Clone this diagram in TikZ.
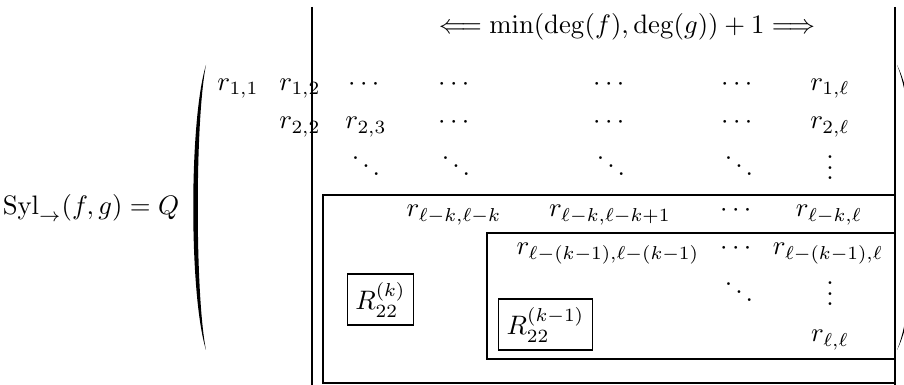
\documentclass[tikz,border=0pt]{standalone}
\usepackage{amsmath}
\usepackage{tikz}
\begin{document}
\begin{tikzpicture}[x=0.3745pt,y=-0.3745pt,
  entry/.style={anchor=base,inner sep=0pt},
  edge/.style={line width=.9pt},
  block/.style={line width=.8pt},
  rbox/.style={draw,line width=.45pt,inner sep=3pt,minimum height=18pt}]
\useasboundingbox (0,0) rectangle (904,385);
% left hand side and top label
\node[entry] (syl) at (91,215) {$\mathrm{Syl}_{\rightarrow}(f,g)=Q$};
\node[entry] (width) at (627,34) {$\Longleftarrow \min(\deg(f),\deg(g))+1 \Longrightarrow$};
% parentheses
\fill (206,65) .. controls (189,120) and (189,295) .. (206,350)
  .. controls (195,295) and (195,120) .. (206,65);
\fill (897,65) .. controls (925,120) and (925,295) .. (897,350)
  .. controls (920,295) and (920,120) .. (897,65);
% first rows
\node[entry] (r11) at (238,91) {$r_{1,1}$};
\node[entry] (r12) at (300,91) {$r_{1,2}$};
\node[entry] (c13) at (366,91) {$\cdots$};
\node[entry] (c14) at (456,91) {$\cdots$};
\node[entry] (c15) at (611,91) {$\cdots$};
\node[entry] (c16) at (739,91) {$\cdots$};
\node[entry] (r1l) at (830,91) {$r_{1,\ell}$};
\node[entry] (r22) at (300,129) {$r_{2,2}$};
\node[entry] (r23) at (366,129) {$r_{2,3}$};
\node[entry] (c24) at (456,129) {$\cdots$};
\node[entry] (c25) at (611,129) {$\cdots$};
\node[entry] (c26) at (739,129) {$\cdots$};
\node[entry] (r2l) at (830,129) {$r_{2,\ell}$};
\node[entry] (d33) at (366,178) {$\ddots$};
\node[entry] (d34) at (456,178) {$\ddots$};
\node[entry] (d35) at (611,178) {$\ddots$};
\node[entry] (d36) at (739,178) {$\ddots$};
\node[entry] (v3l) at (830,180) {$\vdots$};
% lower block
\node[entry] (rkk) at (454,217) {$r_{\ell-k,\ell-k}$};
\node[entry] (rkk1) at (610,217) {$r_{\ell-k,\ell-k+1}$};
\node[entry] (ck) at (738,217) {$\cdots$};
\node[entry] (rkl) at (829,217) {$r_{\ell-k,\ell}$};
\node[entry] (rmm) at (608,255) {$r_{\ell-(k-1),\ell-(k-1)}$};
\node[entry] (cm) at (738,255) {$\cdots$};
\node[entry] (rml) at (828,255) {$r_{\ell-(k-1),\ell}$};
\node[entry] (dl) at (739,304) {$\ddots$};
\node[entry] (vl) at (830,306) {$\vdots$};
\node[entry] (rll) at (830,342) {$r_{\ell,\ell}$};
\node[rbox] (Rk) at (380.5,299.5) {$R_{22}^{(k)}$};
\node[rbox] (Rkm) at (545.5,324.5) {$R_{22}^{(k-1)}$};
% frames
\draw[edge] (312,7) -- (312,386);
\draw[edge] (895,7) -- (895,386);
\draw[block] (895,195) -- (323,195) -- (323,383) -- (895,383);
\draw[block] (895,233) -- (487,233) -- (487,359) -- (895,359);
\end{tikzpicture}
\end{document}
